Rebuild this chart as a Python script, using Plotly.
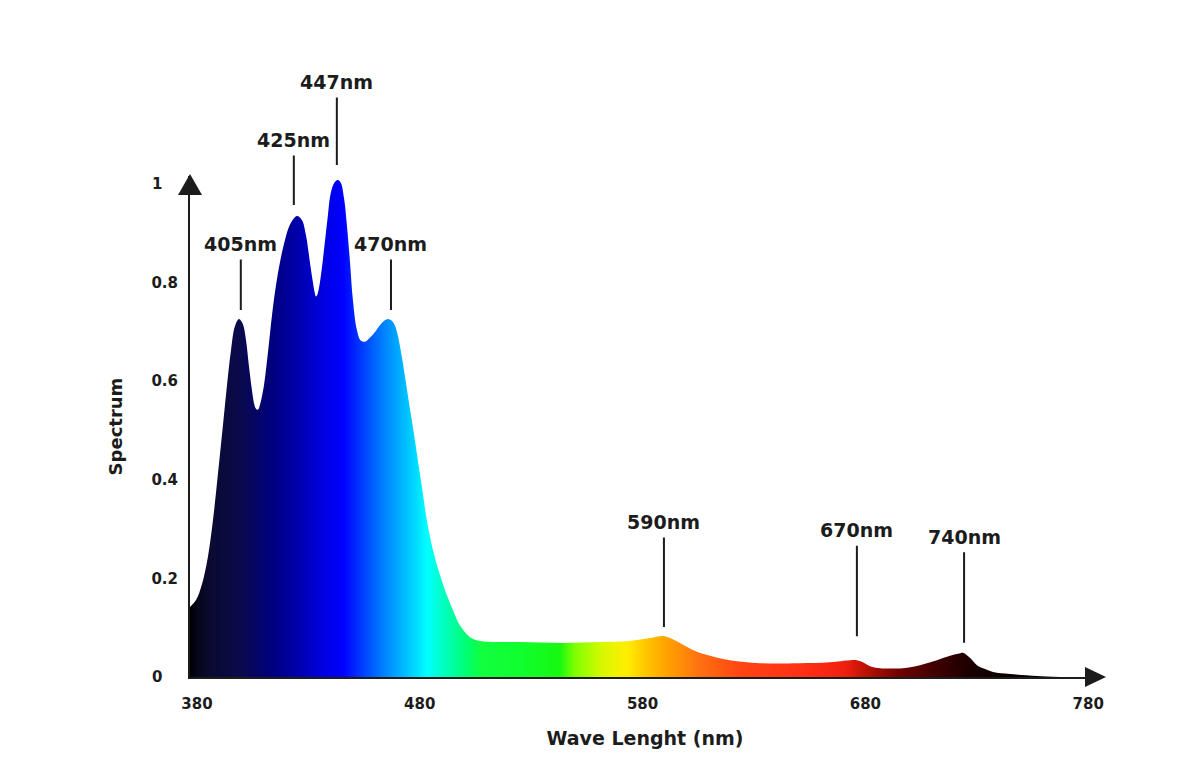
import numpy as np
import plotly.graph_objects as go

# spectrum curve (wavelength in nm, relative intensity)
wavelength = [376.9, 379.6, 382.2, 384.9, 387.2, 389.4, 391.7, 393.5, 395.3, 397.1,
              398.9, 400.6, 402.0, 403.3, 404.7, 405.6, 406.5, 407.4, 408.3, 410.1,
              411.9, 413.7, 415.5, 417.3, 419.5, 421.7, 424.9, 427.1, 428.9, 430.7,
              431.9, 432.8, 433.4, 434.0, 434.9, 436.1, 437.5, 438.8, 440.1, 441.9,
              443.3, 444.6, 446.0, 447.3, 448.7, 450.0, 451.8, 453.6, 455.4, 457.6,
              460.3, 463.0, 465.7, 468.0, 469.8, 471.6, 473.4, 475.2, 477.0, 478.7,
              481.0, 483.2, 485.9, 489.1, 492.2, 494.9, 498.0, 502.5, 507.0, 525.0,
              544.3, 560.9, 574.3, 583.3, 589.2, 592.3, 596.8, 602.6, 610.3, 619.2,
              632.7, 650.6, 664.1, 673.1, 676.2, 678.9, 682.1, 686.6, 696.9, 704.5,
              712.1, 718.0, 721.6, 723.8, 726.9, 730.1, 733.7, 737.3, 744.9, 757.0,
              767.3]
spectrum = [0.142, 0.156, 0.187, 0.243, 0.318, 0.410, 0.511, 0.592, 0.663, 0.712,
            0.726, 0.716, 0.684, 0.633, 0.582, 0.556, 0.544, 0.542, 0.552, 0.592,
            0.659, 0.734, 0.795, 0.842, 0.886, 0.917, 0.935, 0.927, 0.897, 0.842,
            0.805, 0.781, 0.772, 0.775, 0.792, 0.830, 0.885, 0.937, 0.982, 1.004,
            1.008, 1.002, 0.972, 0.917, 0.842, 0.765, 0.704, 0.682, 0.680, 0.688,
            0.702, 0.718, 0.726, 0.720, 0.700, 0.659, 0.609, 0.556, 0.505, 0.454,
            0.385, 0.318, 0.258, 0.207, 0.166, 0.136, 0.105, 0.081, 0.073, 0.071,
            0.069, 0.071, 0.073, 0.079, 0.083, 0.079, 0.069, 0.055, 0.043, 0.034,
            0.028, 0.028, 0.030, 0.034, 0.034, 0.030, 0.022, 0.018, 0.018, 0.024,
            0.034, 0.043, 0.047, 0.049, 0.039, 0.024, 0.016, 0.010, 0.006, 0.002,
            0.000]

# gradient colour stops along the wavelength axis
color_wl = [376.9, 380.0, 385.7, 399.2, 414.1, 426.2, 436.6, 445.6, 454.6, 463.6,
            471.3, 478.9, 483.4, 490.6, 501.3, 507.2, 525.0, 542.9, 549.7, 562.0,
            573.0, 581.0, 590.0, 605.8, 623.7, 650.6, 670.8, 682.1, 695.5, 711.2,
            724.7, 740.4, 767.3]
color_hex = ["#000000", "#05051a", "#0a0a30", "#0a0a4c", "#000080", "#0000b0",
             "#0000e0", "#0000ff", "#0040ff", "#0080ff", "#00b0ff", "#00e0ff",
             "#00ffff", "#00ffc0", "#00ff70", "#10ff40", "#10ff30", "#18f810",
             "#80ff00", "#d8f800", "#ffee00", "#ffc800", "#ffa500", "#ff7010",
             "#ff4512", "#ff3015", "#f02010", "#b01000", "#700000", "#400000",
             "#200000", "#0a0000", "#000000"]

# peak labels
peak_text = ["405nm", "425nm", "447nm", "470nm", "590nm", "670nm", "740nm"]
peak_x = [399.7, 423.5, 442.8, 467.1, 589.6, 676.2, 724.3]

x_ticks = [380, 480, 580, 680, 780]
y_ticks = [0, 0.2, 0.4, 0.6, 0.8, 1]

INK = "#1c1c1c"
FONT = "DejaVu Sans"

w0, w1 = color_wl[0], color_wl[-1]
colorscale = [[(w - w0) / (w1 - w0), c] for w, c in zip(color_wl, color_hex)]

fig = go.Figure()
fig.add_trace(go.Scatter(
    x=wavelength, y=spectrum,
    mode="lines",
    line=dict(width=0, shape="spline", smoothing=1.0),
    fill="tozeroy",
    fillgradient=dict(type="horizontal", colorscale=colorscale, start=w0, stop=w1),
    hoverinfo="skip",
    showlegend=False,
))

wl_arr = np.array(wavelength)
sp_arr = np.array(spectrum)

# label offsets (px): vertical distance to text, gap above peak
label_ay = [-75, -76, -98, -75, -114, -130, -116]
label_gap = [9, 11, 15, 9, 9, 24, 10]
for txt, px, ay, gap in zip(peak_text, peak_x, label_ay, label_gap):
    near = np.abs(wl_arr - px) <= 3
    top = float(sp_arr[near].max())
    fig.add_annotation(
        x=px, y=top,
        text=txt, showarrow=True, arrowhead=0, arrowwidth=2, arrowcolor=INK,
        ax=0, ay=ay, standoff=gap, startstandoff=3,
        font=dict(family=FONT, size=19, color=INK, weight="bold"),
    )

# arrow heads on the axes
fig.add_shape(type="path", xref="paper", yref="paper", xsizemode="pixel", ysizemode="pixel",
              xanchor=1, yanchor=0, path="M -15,-10 L 6,0 L -15,10 Z",
              fillcolor=INK, line=dict(width=0))
fig.add_shape(type="path", xref="paper", yref="paper", xsizemode="pixel", ysizemode="pixel",
              xanchor=0, yanchor=1, path="M -12,-19 L 0,2 L 12,-19 Z",
              fillcolor=INK, line=dict(width=0))

pad = "\u00a0" * 3
y_text = [f"{v:g}" + (pad if len(f"{v:g}") == 1 else "") for v in y_ticks]

fig.update_xaxes(
    range=[376.9, 785.3], tickvals=x_ticks, ticktext=[str(v) for v in x_ticks],
    showline=True, linecolor=INK, linewidth=2, showgrid=False, zeroline=False,
    ticks="", ticklabelstandoff=12,
    tickfont=dict(family=FONT, size=15, color=INK, weight="bold"),
    title=dict(text="Wave Lenght (nm)", standoff=20,
               font=dict(family=FONT, size=19, color=INK, weight="bold")),
)
fig.update_yaxes(
    range=[0, 1.0162], tickvals=y_ticks, ticktext=y_text,
    showline=True, linecolor=INK, linewidth=2, showgrid=False, zeroline=False,
    ticks="", ticklabelstandoff=7,
    tickfont=dict(family=FONT, size=15, color=INK, weight="bold"),
    title=dict(text="Spectrum", standoff=24,
               font=dict(family=FONT, size=18, color=INK, weight="bold")),
)

fig.update_layout(
    width=1200, height=776,
    margin=dict(l=190, r=100, t=176, b=99),
    paper_bgcolor="white", plot_bgcolor="white",
    showlegend=False,
)

# drop the browser's default page margin so the figure sits at the window origin
fig.write_html("out.html", config={"displayModeBar": False},
               post_script="document.body.style.margin = '0';")
